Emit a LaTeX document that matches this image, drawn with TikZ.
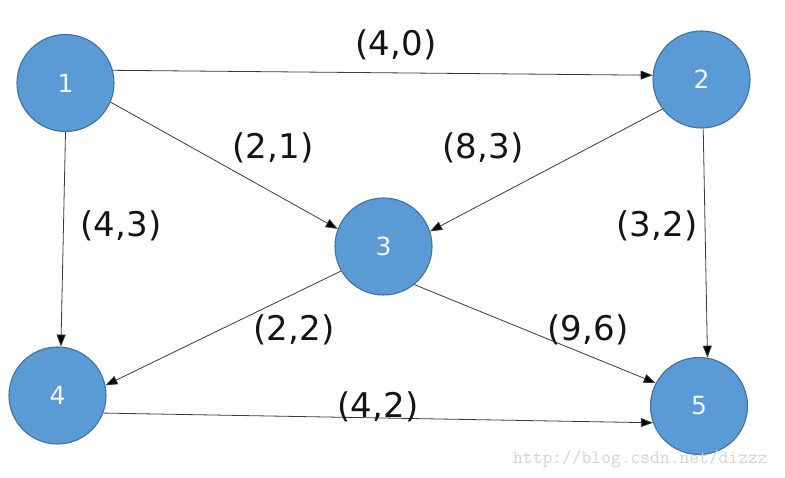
\documentclass[tikz,border=0pt]{standalone}
\usepackage{fontspec}
\setmainfont{DejaVu Sans}
\usetikzlibrary{arrows.meta}
\definecolor{nodefill}{HTML}{5B9BD5}
\definecolor{nodeedge}{HTML}{41719C}
\definecolor{edgecol}{HTML}{3A3A3A}
\definecolor{wmark}{RGB}{212,212,206}
\tikzset{
  vert/.style={circle, fill=nodefill, draw=nodeedge, line width=1.1pt,
    minimum size=97pt, inner sep=0pt, text=white!92!nodefill,
    font=\fontsize{25}{25}\selectfont},
  conn/.style={draw=edgecol, line width=0.8pt,
    -{Triangle[length=12pt,width=9pt,fill=black]}},
  elabel/.style={font=\fontsize{34}{34}\selectfont, text=black!92, inner sep=0pt}
}
\begin{document}
\begin{tikzpicture}[x=1pt,y=-1pt]
\useasboundingbox (0,0) rectangle (785,478);
\node[vert] (n1) at (65.5,83) {1};
\node[vert] (n2) at (701.5,79.5) {2};
\node[vert] (n3) at (383.5,246.5) {3};
\node[vert] (n4) at (57.5,395.5) {4};
\node[vert] (n5) at (699,406) {5};

\draw[conn] (n1.15) -- (n2.175);
\draw[conn] (n1.-23) -- (n3.159);
\draw[conn] (n1.-90) -- (n4.86);
\draw[conn] (n2.-143) -- (n3.18);
\draw[conn] (n2.-88) -- (n5.80);
\draw[conn] (n3.210) -- (n4.12);
\draw[conn] (n3.-51) -- (n5.152);
\draw[conn] (n4.-21) -- (n5.200);

\node[elabel] (l12) at (396,45) {(4,0)};
\node[elabel] (l13) at (273,148) {(2,1)};
\node[elabel] (l23) at (483,148) {(8,3)};
\node[elabel] (l14) at (121,226) {(4,3)};
\node[elabel] (l25) at (657,226) {(3,2)};
\node[elabel] (l34) at (294,330) {(2,2)};
\node[elabel] (l35) at (588,330) {(9,6)};
\node[elabel] (l45) at (378,407) {(4,2)};

\node[anchor=base west, inner sep=0pt, text=wmark, font=\ttfamily\fontsize{19}{19}\selectfont] (wm) at (513,463) {http://blog.csdn.net/dizzz};
\end{tikzpicture}
\end{document}
